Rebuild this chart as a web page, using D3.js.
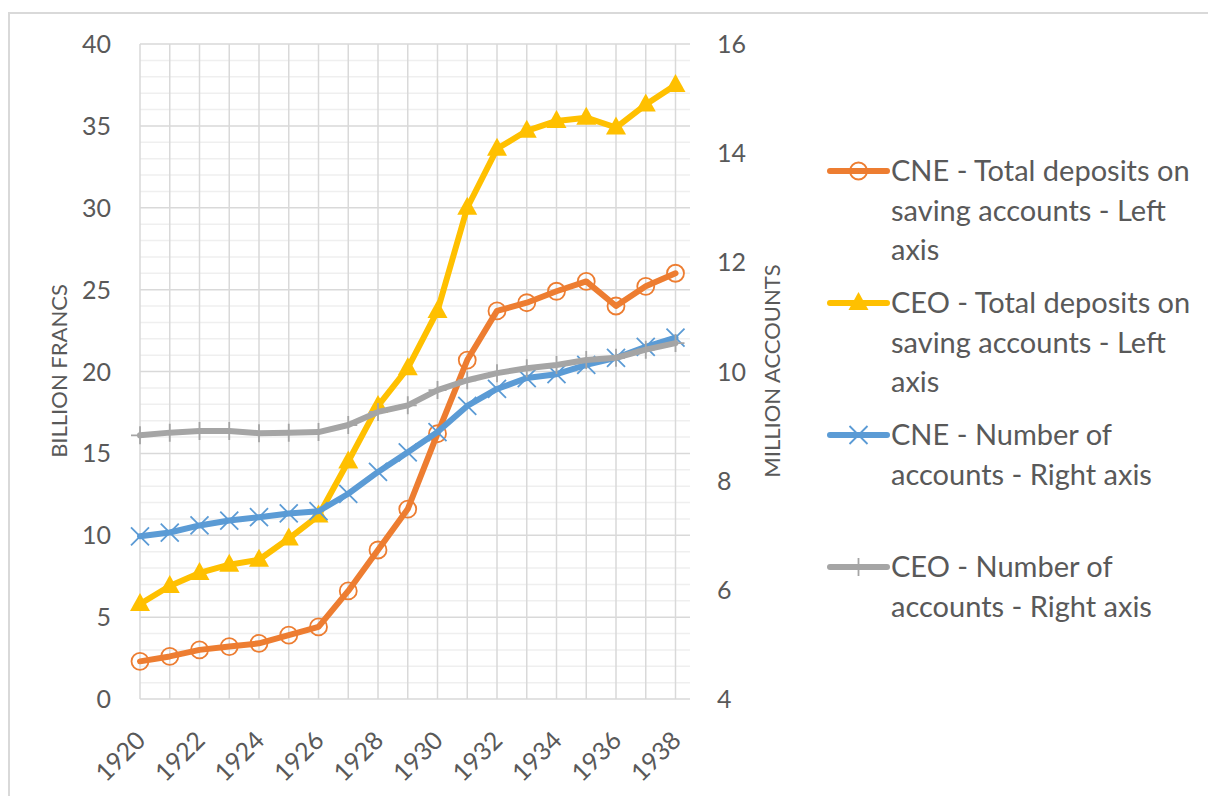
<!DOCTYPE html>
<html>
<head>
<meta charset="utf-8">
<script src="https://cdn.jsdelivr.net/npm/d3@7"></script>
<style>
  body { margin: 0; background: #fff; }
  text { font-family: Lato, "Open Sans", sans-serif; fill: #595959; }
</style>
</head>
<body>
<div id="chart"></div>
<script>
// Data
var years = [1920, 1921, 1922, 1923, 1924, 1925, 1926, 1927, 1928, 1929,
             1930, 1931, 1932, 1933, 1934, 1935, 1936, 1937, 1938];
var cneDeposits = [2.3, 2.6, 3.0, 3.2, 3.4, 3.9, 4.4, 6.6, 9.1, 11.6,
                   16.2, 20.7, 23.7, 24.2, 24.9, 25.5, 24.0, 25.2, 26.0];
var ceoDeposits = [5.8, 6.9, 7.7, 8.2, 8.5, 9.8, 11.2, 14.5, 17.9, 20.2,
                   23.7, 30.0, 33.6, 34.7, 35.3, 35.5, 34.9, 36.3, 37.5];
var cneAccounts = [6.98, 7.05, 7.18, 7.27, 7.33, 7.40, 7.44, 7.76, 8.16, 8.52,
                   8.89, 9.37, 9.68, 9.88, 9.95, 10.12, 10.25, 10.45, 10.62];
var ceoAccounts = [8.83, 8.88, 8.91, 8.91, 8.87, 8.88, 8.89, 9.02, 9.26, 9.38,
                   9.66, 9.84, 9.97, 10.06, 10.12, 10.21, 10.25, 10.40, 10.52];
var xTickYears = [1920, 1922, 1924, 1926, 1928, 1930, 1932, 1934, 1936, 1938];
var leftTicks = [0, 5, 10, 15, 20, 25, 30, 35, 40];
var rightTicks = [4, 6, 8, 10, 12, 14, 16];

var svgWidth = 1208;
var svgHeight = 796;

var plot = { left: 140, right: 690, top: 44, bottom: 699 };

var svg = d3.select("#chart")
    .append("svg")
    .attr("width", svgWidth)
    .attr("height", svgHeight);

// Chart frame
svg.append("rect")
    .attr("x", 9).attr("y", 13)
    .attr("width", 1300).attr("height", 900)
    .attr("fill", "none")
    .attr("stroke", "#d9d9d9")
    .attr("stroke-width", 2);

// Scales
var xScale = d3.scaleLinear()
    .domain([1920, 1938])
    .range([plot.left, plot.left + 18 * 29.75]);

var yLeft = d3.scaleLinear()
    .domain([0, 40])
    .range([plot.bottom, plot.top]);

var yRight = d3.scaleLinear()
    .domain([4, 16])
    .range([plot.bottom, plot.top]);

// Minor horizontal gridlines
var grid = svg.append("g");
grid.selectAll(".minor")
    .data(d3.range(0, 41).filter(d => d % 5 !== 0))
    .enter()
    .append("line")
    .attr("x1", plot.left).attr("x2", plot.right)
    .attr("y1", d => yLeft(d)).attr("y2", d => yLeft(d))
    .attr("stroke", "#efefef")
    .attr("stroke-width", 1.5);

// Vertical gridlines
grid.selectAll(".vgrid")
    .data(years)
    .enter()
    .append("line")
    .attr("x1", d => xScale(d)).attr("x2", d => xScale(d))
    .attr("y1", plot.top).attr("y2", plot.bottom)
    .attr("stroke", "#d9d9d9")
    .attr("stroke-width", 1.5);

// Major horizontal gridlines
grid.selectAll(".major")
    .data(leftTicks)
    .enter()
    .append("line")
    .attr("x1", plot.left).attr("x2", plot.right)
    .attr("y1", d => yLeft(d)).attr("y2", d => yLeft(d))
    .attr("stroke", "#d9d9d9")
    .attr("stroke-width", 1.5);

// Left axis labels
svg.append("g").selectAll("text")
    .data(leftTicks)
    .enter()
    .append("text")
    .attr("x", 111)
    .attr("y", d => yLeft(d) + 9)
    .attr("text-anchor", "end")
    .attr("font-size", 25)
    .text(d => d);

// Right axis labels
svg.append("g").selectAll("text")
    .data(rightTicks)
    .enter()
    .append("text")
    .attr("x", 717)
    .attr("y", d => yRight(d) + 9)
    .attr("font-size", 25)
    .text(d => d);

// X axis labels (rotated)
svg.append("g").selectAll("text")
    .data(xTickYears)
    .enter()
    .append("text")
    .attr("transform", d => `translate(${xScale(d) + 7}, 742) rotate(-45)`)
    .attr("text-anchor", "end")
    .attr("font-size", 25)
    .text(d => d);

// Axis titles
svg.append("text")
    .attr("transform", "translate(67, 371) rotate(-90)")
    .attr("text-anchor", "middle")
    .attr("font-size", 22)
    .text("BILLION FRANCS");

svg.append("text")
    .attr("transform", "translate(780, 371) rotate(-90)")
    .attr("text-anchor", "middle")
    .attr("font-size", 22)
    .text("MILLION ACCOUNTS");

// Marker drawing helpers
function drawMarker(g, type, color, x, y) {
    if (type === "circle") {
        g.append("circle")
            .attr("cx", x).attr("cy", y).attr("r", 8.5)
            .attr("fill", "none")
            .attr("stroke", color)
            .attr("stroke-width", 1.8);
    } else if (type === "triangle") {
        g.append("path")
            .attr("d", `M${x},${y - 11} L${x + 10},${y + 7} L${x - 10},${y + 7} Z`)
            .attr("fill", color);
    } else if (type === "x") {
        g.append("path")
            .attr("d", `M${x - 9},${y - 9} L${x + 9},${y + 9} M${x - 9},${y + 9} L${x + 9},${y - 9}`)
            .attr("stroke", color)
            .attr("stroke-width", 1.8);
    } else if (type === "plus") {
        g.append("path")
            .attr("d", `M${x - 9},${y} L${x + 9},${y} M${x},${y - 9} L${x},${y + 9}`)
            .attr("stroke", color)
            .attr("stroke-width", 1.8);
    }
}

var series = [
    { name: ["CNE - Total deposits on", "saving accounts - Left", "axis"], values: cneDeposits, scale: yLeft, color: "#ED7D31", marker: "circle" },
    { name: ["CEO - Total deposits on", "saving accounts - Left", "axis"], values: ceoDeposits, scale: yLeft, color: "#FFC000", marker: "triangle" },
    { name: ["CNE - Number of", "accounts - Right axis"], values: cneAccounts, scale: yRight, color: "#5B9BD5", marker: "x" },
    { name: ["CEO - Number of", "accounts - Right axis"], values: ceoAccounts, scale: yRight, color: "#A5A5A5", marker: "plus" }
];

series.forEach(function(s) {
    var g = svg.append("g");
    var line = d3.line()
        .x((d, i) => xScale(years[i]))
        .y(d => s.scale(d));
    g.append("path")
        .datum(s.values)
        .attr("d", line)
        .attr("fill", "none")
        .attr("stroke", s.color)
        .attr("stroke-width", 6)
        .attr("stroke-linejoin", "round")
        .attr("stroke-linecap", "round");
    s.values.forEach(function(v, i) {
        drawMarker(g, s.marker, s.color, xScale(years[i]), s.scale(v));
    });
});

// Legend
var legend = svg.append("g");
series.forEach(function(s, i) {
    var baseY = 181 + i * 132;
    legend.append("line")
        .attr("x1", 830).attr("x2", 887)
        .attr("y1", baseY - 10).attr("y2", baseY - 10)
        .attr("stroke", s.color)
        .attr("stroke-width", 6)
        .attr("stroke-linecap", "round");
    drawMarker(legend, s.marker, s.color, 858.5, baseY - 10);
    s.name.forEach(function(t, j) {
        legend.append("text")
            .attr("x", 891)
            .attr("y", baseY + j * 39.7)
            .attr("font-size", 29)
            .text(t);
    });
});
</script>
</body>
</html>
